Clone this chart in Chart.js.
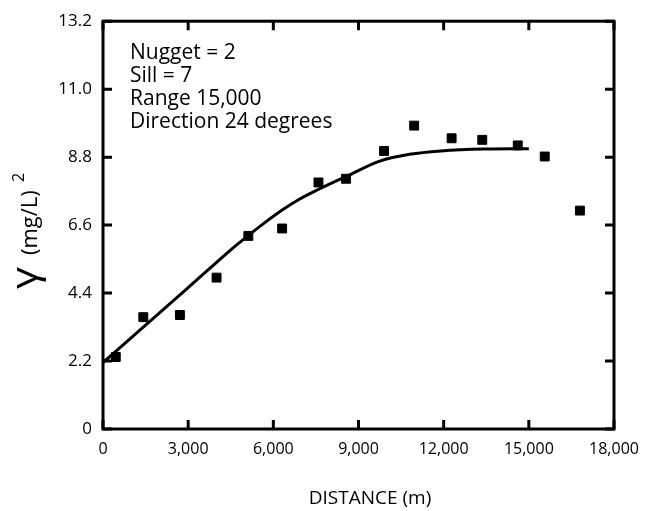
<!DOCTYPE html>
<html>
<head>
<meta charset="utf-8">
<script src="https://cdn.jsdelivr.net/npm/chart.js@4.4.1/dist/chart.umd.min.js"></script>
<style>
html,body{margin:0;padding:0;background:#fff;}
canvas{display:block;}
</style>
</head>
<body>
<canvas id="c" width="654" height="511"></canvas>
<script>
// ---- data ----
const obsDistance = [450, 1420, 2710, 4000, 5120, 6310, 7590, 8560, 9900, 10960, 12280, 13360, 14610, 15560, 16800];
const obsGamma    = [2.33, 3.62, 3.69, 4.90, 6.25, 6.49, 7.98, 8.10, 9.00, 9.82, 9.41, 9.36, 9.18, 8.82, 7.07];
const fitDistance = [0, 1000, 2000, 3000, 4000, 4500, 5100, 5700, 6300, 6900, 7600, 8600, 9750, 10800, 11900, 13400, 15000];
const fitGamma    = [2.15, 2.96, 3.77, 4.58, 5.39, 5.80, 6.25, 6.68, 7.08, 7.43, 7.76, 8.19, 8.67, 8.89, 9.00, 9.06, 9.07];
const xTicks = [0, 3000, 6000, 9000, 12000, 15000, 18000];
const yTicks = [0, 2.2, 4.4, 6.6, 8.8, 11.0, 13.2];
const yTickLabels = ['0', '2.2', '4.4', '6.6', '8.8', '11.0', '13.2'];
const xTickLabels = ['0', '3,000', '6,000', '9,000', '12,000', '15,000', '18,000'];
const noteLines = ['Nugget = 2', 'Sill = 7', 'Range 15,000', 'Direction 24 degrees'];
const xTitle = 'DISTANCE (m)';

const FONT = '"Open Sans", "Noto Sans", sans-serif';

const framePlugin = {
  id: 'frame',
  afterDraw(chart) {
    const ctx = chart.ctx;
    const a = chart.chartArea;
    const xs = chart.scales.x, ys = chart.scales.y;
    ctx.save();
    ctx.strokeStyle = '#000';
    ctx.lineWidth = 3;
    ctx.strokeRect(a.left, a.top, a.right - a.left, a.bottom - a.top);
    const tl = 9;
    ctx.beginPath();
    xTicks.forEach(v => {
      const px = xs.getPixelForValue(v);
      ctx.moveTo(px, a.bottom); ctx.lineTo(px, a.bottom - tl);
      ctx.moveTo(px, a.top); ctx.lineTo(px, a.top + tl);
    });
    yTicks.forEach(v => {
      const py = ys.getPixelForValue(v);
      ctx.moveTo(a.left, py); ctx.lineTo(a.left + tl, py);
      ctx.moveTo(a.right, py); ctx.lineTo(a.right - tl, py);
    });
    ctx.stroke();

    // annotation text
    ctx.fillStyle = '#000';
    ctx.font = '21px ' + FONT;
    ctx.textAlign = 'left';
    ctx.textBaseline = 'alphabetic';
    const base = [59, 82, 105, 128];
    noteLines.forEach((t, i) => ctx.fillText(t, 130, base[i]));

    // x title
    ctx.font = '19px ' + FONT;
    ctx.textAlign = 'center';
    ctx.textBaseline = 'middle';
    ctx.fillText(xTitle, 370, 499);

    // y title (rotated)
    ctx.translate(38, 289);
    ctx.rotate(-Math.PI / 2);
    ctx.textAlign = 'left';
    ctx.textBaseline = 'alphabetic';
    ctx.font = '36px ' + FONT;
    ctx.save();
    ctx.scale(1.2, 1);
    ctx.fillText('\u03B3', 0, -1);
    ctx.restore();
    ctx.font = '22px ' + FONT;
    ctx.fillText('(mg/L)', 34, -1);
    ctx.font = '16px ' + FONT;
    ctx.fillText('2', 107, -14);
    ctx.restore();
  }
};

new Chart(document.getElementById('c'), {
  data: {
    datasets: [
      {
        type: 'line',
        data: fitDistance.map((d, i) => ({x: d, y: fitGamma[i]})),
        borderColor: '#000',
        borderWidth: 3,
        pointRadius: 0,
        fill: false,
        cubicInterpolationMode: 'monotone'
      },
      {
        type: 'scatter',
        data: obsDistance.map((d, i) => ({x: d, y: obsGamma[i]})),
        pointStyle: 'rect',
        pointRadius: 6.3,
        pointBorderWidth: 1,
        backgroundColor: '#000',
        borderColor: '#000'
      }
    ]
  },
  options: {
    responsive: false,
    animation: false,
    layout: { padding: { top: 19, right: 40, left: 0, bottom: 0 } },
    plugins: { legend: { display: false }, tooltip: { enabled: false } },
    scales: {
      x: {
        type: 'linear',
        min: 0, max: 18000,
        afterBuildTicks: s => { s.ticks = xTicks.map(v => ({value: v})); },
        afterFit: s => { s.height = 82; },
        grid: { display: false, drawTicks: false },
        border: { display: false },
        ticks: {
          padding: 11,
          color: '#000',
          font: { family: FONT, size: 16 },
          maxRotation: 0,
          callback: (v, i) => xTickLabels[i]
        }
      },
      y: {
        type: 'linear',
        min: 0, max: 13.2,
        afterBuildTicks: s => { s.ticks = yTicks.map(v => ({value: v})); },
        afterFit: s => { s.width = 103; },
        grid: { display: false, drawTicks: false },
        border: { display: false },
        ticks: {
          padding: 11,
          color: '#000',
          font: { family: FONT, size: 17 },
          callback: (v, i) => yTickLabels[i]
        }
      }
    }
  },
  plugins: [framePlugin]
});
</script>
</body>
</html>
